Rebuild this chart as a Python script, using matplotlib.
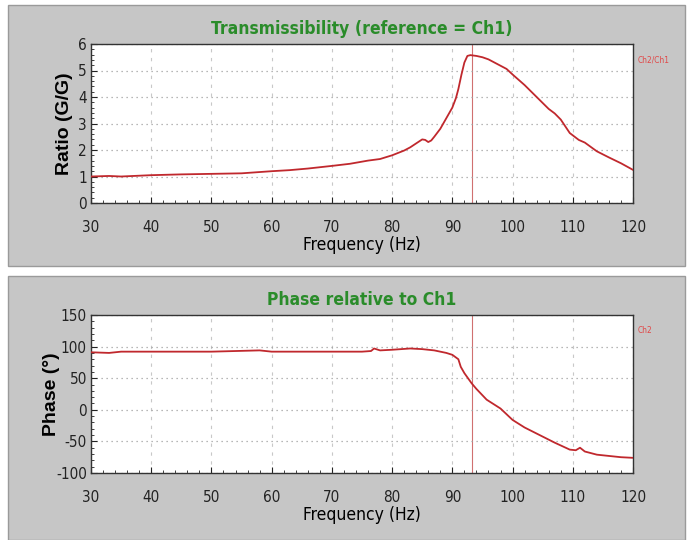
import numpy as np
import matplotlib.pyplot as plt
from matplotlib.patches import Rectangle
from matplotlib.ticker import MultipleLocator

# 전달률 (Ch2/Ch1)
freq_t = [30, 33, 35, 40, 45, 50, 55, 60, 63, 66, 70, 73, 76, 78, 80, 82, 83, 84, 85, 85.5, 86, 86.5, 87, 88, 88.5, 89, 90, 90.6, 91, 91.5, 92, 92.5, 93, 94, 95, 96, 97, 98, 99, 100, 102, 104, 106, 107, 108, 109.5, 111, 112, 114, 116, 118, 120]
ratio = [1.0, 1.02, 1.0, 1.05, 1.08, 1.1, 1.12, 1.2, 1.24, 1.3, 1.4, 1.48, 1.6, 1.66, 1.8, 1.98, 2.1, 2.25, 2.4, 2.38, 2.3, 2.36, 2.5, 2.8, 3.0, 3.2, 3.6, 3.96, 4.3, 4.83, 5.3, 5.55, 5.58, 5.55, 5.5, 5.42, 5.3, 5.18, 5.06, 4.85, 4.45, 4.0, 3.55, 3.38, 3.15, 2.64, 2.38, 2.28, 1.95, 1.72, 1.5, 1.25]

# 위상 (Ch2)
freq_p = [30, 33, 35, 40, 50, 58, 60, 65, 70, 75, 76.5, 77, 78, 80, 83, 85, 87, 88, 89, 90, 91, 91.4, 92, 93.2, 94, 95.7, 98, 100, 102, 104.5, 107, 109.5, 110.5, 111.2, 112, 114, 116, 118, 120]
phase = [91, 90, 92, 92, 92, 94, 92, 92, 92, 92, 93, 97, 94, 95, 97, 96, 94, 92, 90, 87, 80, 68, 58, 42, 33, 16, 2, -16, -28, -40, -52, -63, -64, -60, -66, -71, -73, -75, -76]

marker_f = 93.3
line_c = '#c0282d'

plt.rcParams['font.family'] = ['DejaVu Sans']
plt.rcParams['font.stretch'] = 'condensed'
plt.rcParams['axes.unicode_minus'] = False

fig = plt.figure(figsize=(6.9, 5.4), dpi=100)
fig.patch.set_facecolor('white')

# 회색 패널 두 개
fig.add_artist(Rectangle((8/690, 1-266/540), 677/690, 261/540, transform=fig.transFigure,
                         facecolor='#c6c6c6', edgecolor='#9a9a9a', lw=1, zorder=-5))
fig.add_artist(Rectangle((8/690, 0), 677/690, 1-276/540, transform=fig.transFigure,
                         facecolor='#c6c6c6', edgecolor='#9a9a9a', lw=1, zorder=-5))


def style(ax, ymin, ymax, ystep, yminor, ylabel, ylab_x, title, legend):
    ax.set_facecolor('white')
    ax.set_xlim(30, 120)
    ax.set_ylim(ymin, ymax)
    ax.xaxis.set_major_locator(MultipleLocator(10))
    ax.xaxis.set_minor_locator(MultipleLocator(2))
    ax.yaxis.set_major_locator(MultipleLocator(ystep))
    ax.yaxis.set_minor_locator(MultipleLocator(yminor))
    ax.grid(True, which='major', axis='y', color='#a0a0a0', ls=(0, (1, 3)), lw=0.9)
    ax.grid(True, which='major', axis='x', color='#c8c8c8', ls=(0, (3, 5)), lw=0.8)
    ax.tick_params(which='both', direction='in', labelsize=11, colors='#222222')
    ax.tick_params(which='major', length=4)
    ax.tick_params(which='minor', length=2)
    ax.tick_params(axis='x', pad=12)
    ax.tick_params(axis='y', pad=3)
    for s in ax.spines.values():
        s.set_color('#333333')
        s.set_linewidth(1.0)
    ax.set_xlabel('Frequency (Hz)', fontsize=12.5, labelpad=1)
    ax.set_ylabel(ylabel, fontsize=14, fontweight='bold', family=['Liberation Sans', 'DejaVu Sans'],
                  fontstretch='normal')
    ax.yaxis.set_label_coords(ylab_x, 0.5)
    ax.set_title(title, fontsize=12.5, fontweight='bold', color='#2a8c2a', pad=7)
    ax.text(1.008, 0.90, legend, transform=ax.transAxes, fontsize=6, color='#e04848', va='center')
    ax.axvline(marker_f, color='#d07070', lw=0.8, zorder=1)


ax1 = fig.add_axes([91/690, 1-203/540, 542/690, 159/540])
ax1.plot(freq_t, ratio, color=line_c, lw=1.3, zorder=3)
style(ax1, 0, 6, 1, 0.2, 'Ratio (G/G)', -0.034, 'Transmissibility (reference = Ch1)', 'Ch2/Ch1')

ax2 = fig.add_axes([91/690, 1-473/540, 542/690, 158/540])
ax2.plot(freq_p, phase, color=line_c, lw=1.3, zorder=3)
style(ax2, -100, 150, 50, 10, 'Phase (°)', -0.058, 'Phase relative to Ch1', 'Ch2')

fig.savefig('out.png', dpi=100, facecolor=fig.get_facecolor())
